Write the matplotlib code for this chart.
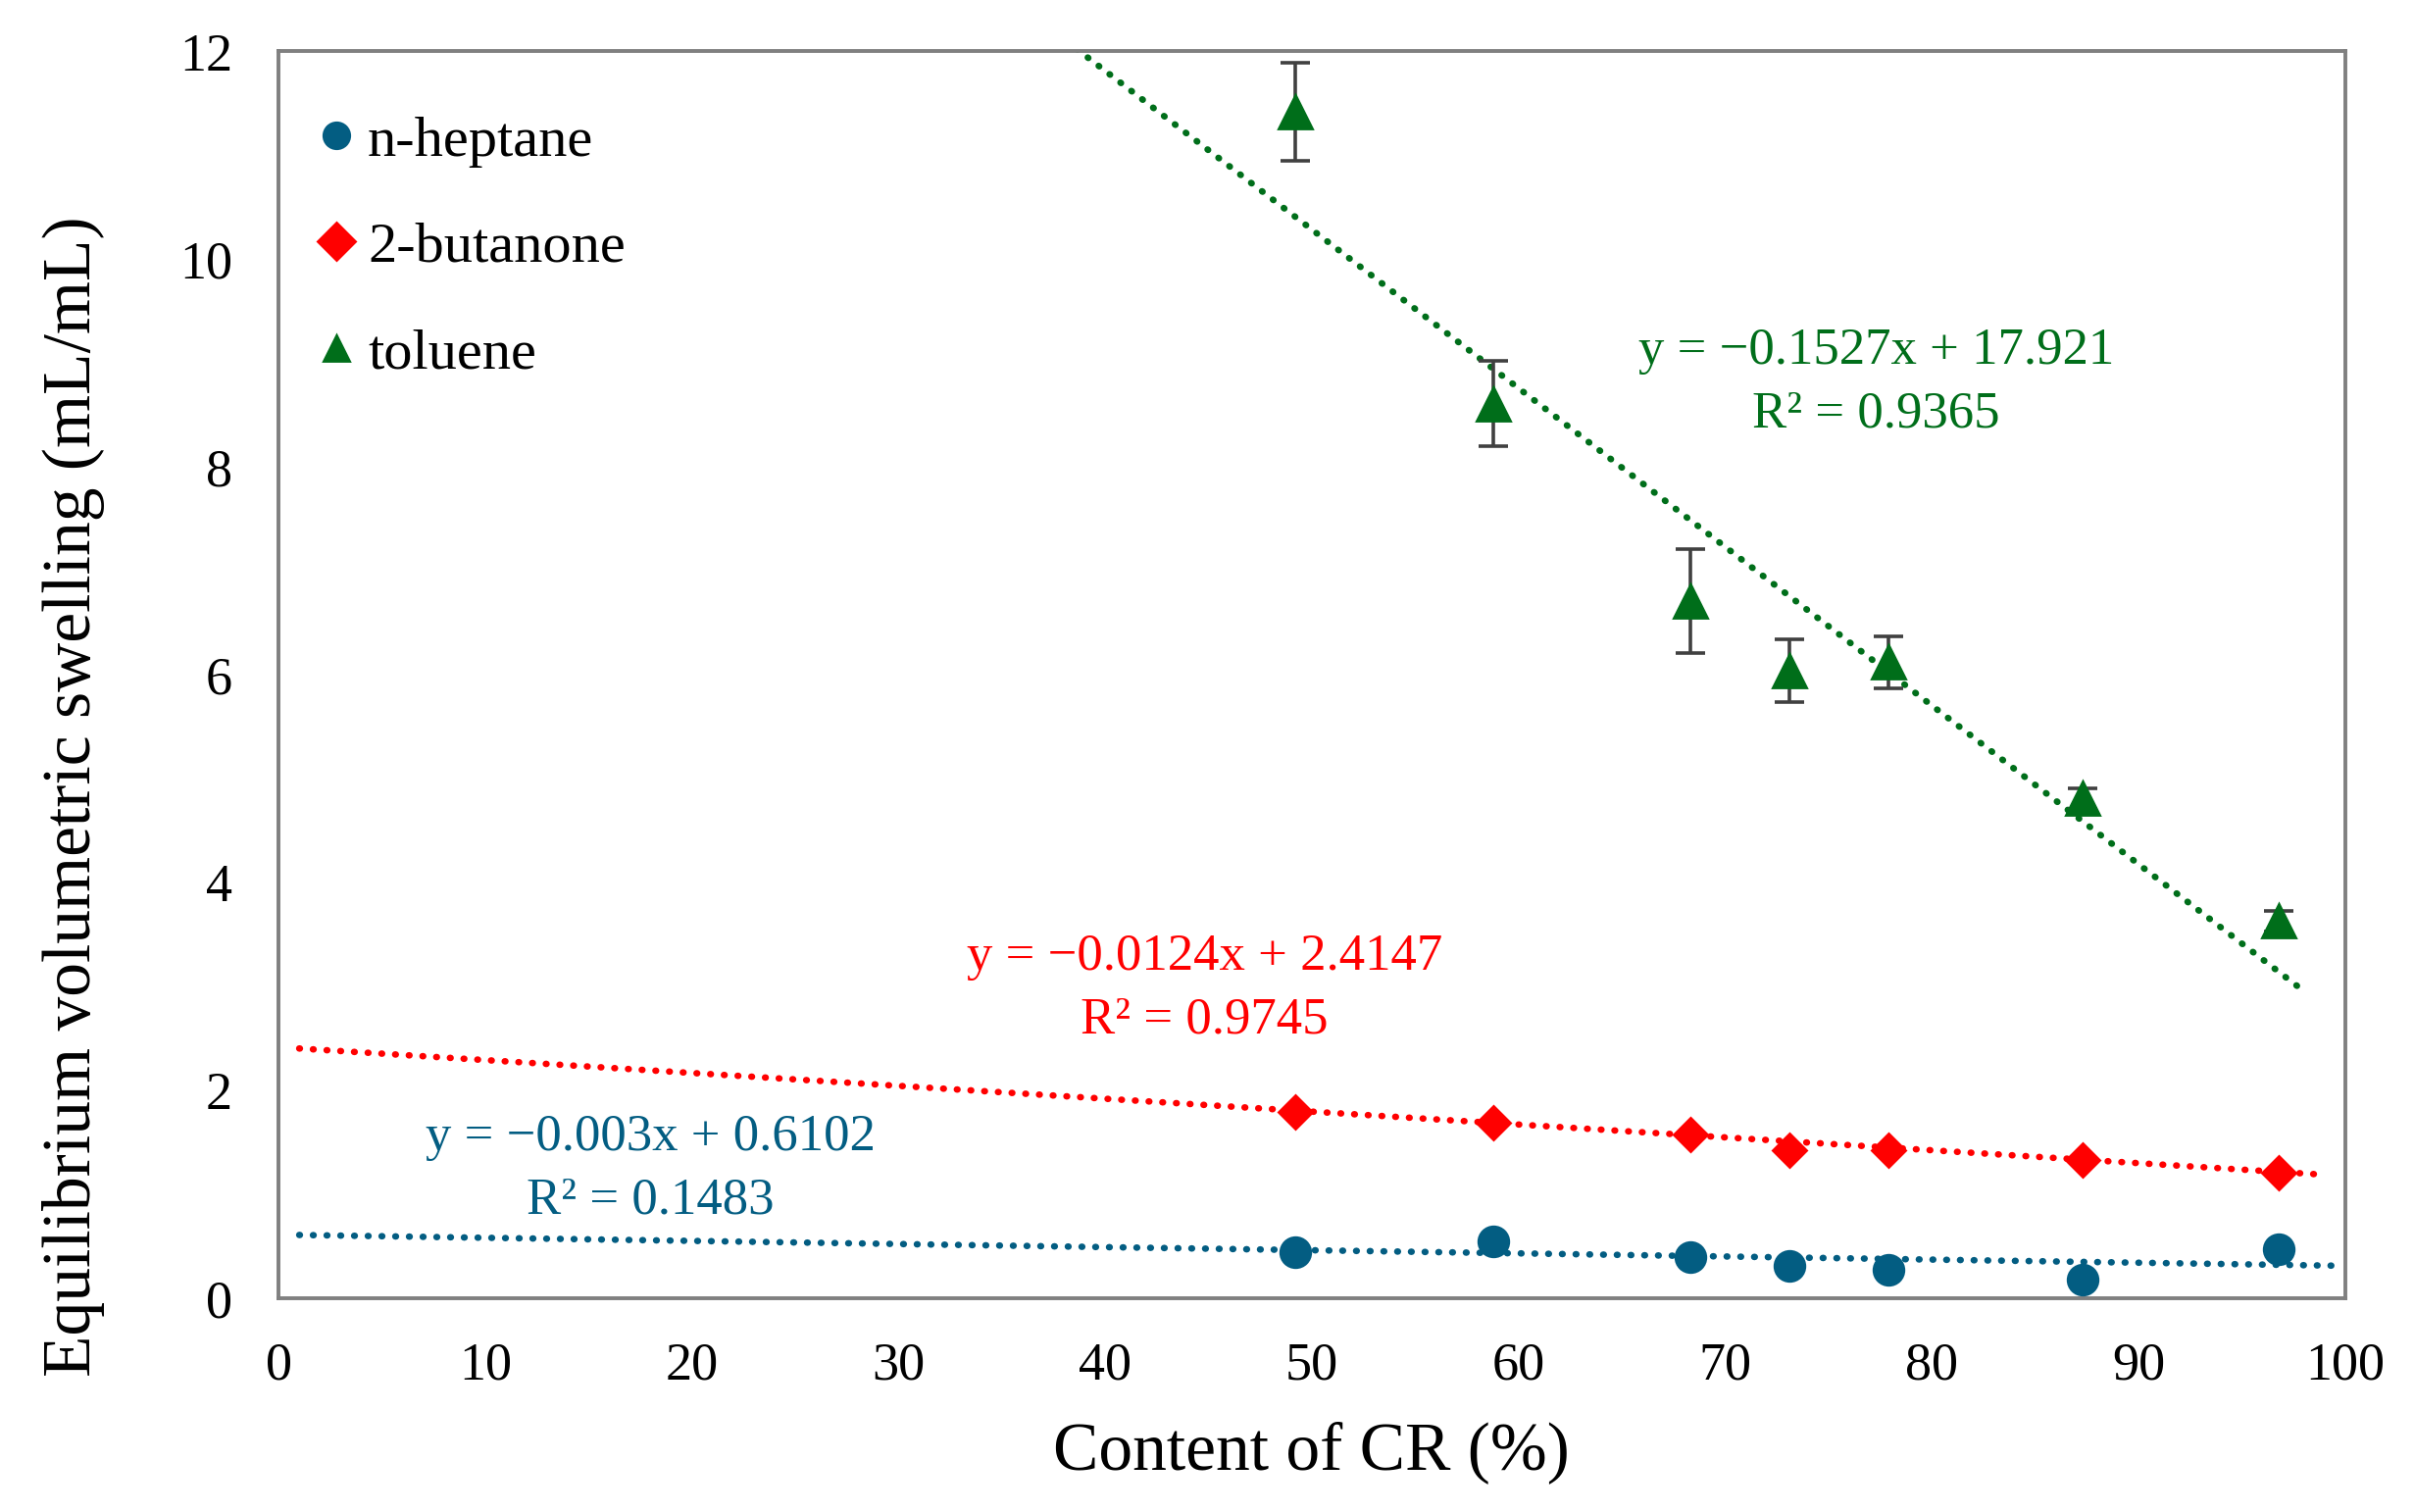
import numpy as np
import matplotlib.pyplot as plt

plt.rcParams['font.family'] = ['Liberation Serif', 'DejaVu Serif']

cr = [49.2, 58.8, 68.3, 73.1, 77.9, 87.3, 96.8]
heptane = [0.44, 0.55, 0.39, 0.31, 0.27, 0.18, 0.47]
butanone = [1.79, 1.69, 1.57, 1.42, 1.42, 1.33, 1.21]
toluene = [11.42, 8.61, 6.71, 6.04, 6.12, 4.81, 3.63]
toluene_err = [0.47, 0.41, 0.50, 0.30, 0.25, 0.10, 0.10]

# trendline coefficients (slope, intercept)
fit_heptane = (-0.003, 0.6102)
fit_butanone = (-0.0124, 2.4147)
fit_toluene = (-0.1527, 17.921)

c_blue = '#035d82'
c_red = '#ff0000'
c_green = '#006e1a'

fig = plt.figure(figsize=(12.31, 7.71), dpi=200)
ax = fig.add_axes([0.1154, 0.1415, 0.856, 0.8245])

dot = dict(linestyle=(0, (0.1, 2.0)), linewidth=2.4, dash_capstyle='round')

def trend(fit, x0, x1, color):
    xs = np.array([x0, x1])
    ax.plot(xs, fit[0] * xs + fit[1], color=color, zorder=2, **dot)

trend(fit_heptane, 1, 99.6, c_blue)
trend(fit_butanone, 1, 98.5, c_red)
trend(fit_toluene, 1, 97.7, c_green)

ax.plot(cr, heptane, 'o', color=c_blue, markersize=11, label='n-heptane', zorder=3)
ax.plot(cr, butanone, 'D', color=c_red, markersize=8.5, label='2-butanone', zorder=3)
ax.errorbar(cr, toluene, yerr=toluene_err, fmt='none',
            ecolor='#404040', elinewidth=1.3, capsize=5.5, capthick=1.3, zorder=3)
ax.plot(cr, toluene, '^', color=c_green, markersize=12, label='toluene', zorder=4)

eq_style = dict(fontsize=19, ha='center', va='center', multialignment='center', linespacing=1.45)
ax.text(77.3, 8.81, 'y = \u22120.1527x + 17.921\nR\u00b2 = 0.9365', color=c_green, **eq_style)
ax.text(44.8, 2.98, 'y = \u22120.0124x + 2.4147\nR\u00b2 = 0.9745', color=c_red, **eq_style)
ax.text(18.0, 1.24, 'y = \u22120.003x + 0.6102\nR\u00b2 = 0.1483', color=c_blue, **eq_style)

ax.set_xlim(0, 100)
ax.set_ylim(0, 12)
ax.set_xticks(np.arange(0, 101, 10))
ax.set_yticks(np.arange(0, 13, 2))
ax.tick_params(length=0, labelsize=19.5)
ax.tick_params(axis='y', pad=17)
ax.tick_params(axis='x', pad=16)
for s in ax.spines.values():
    s.set_color('#808080')
    s.set_linewidth(1.4)

ax.set_xlabel('Content of CR (%)', fontsize=25, labelpad=11)
ax.set_ylabel('Equilibrium volumetric swelling (mL/mL)', fontsize=25)
ax.yaxis.set_label_coords(-0.084, 0.402)

leg = ax.legend(loc='upper left', frameon=False, fontsize=21, handletextpad=0.05,
                handlelength=1.0, labelspacing=0.95, borderaxespad=0.0,
                bbox_to_anchor=(0.003, 0.967))
for h in leg.legend_handles:
    h.set_markersize(9.5)

fig.savefig('out.png', dpi=200)
